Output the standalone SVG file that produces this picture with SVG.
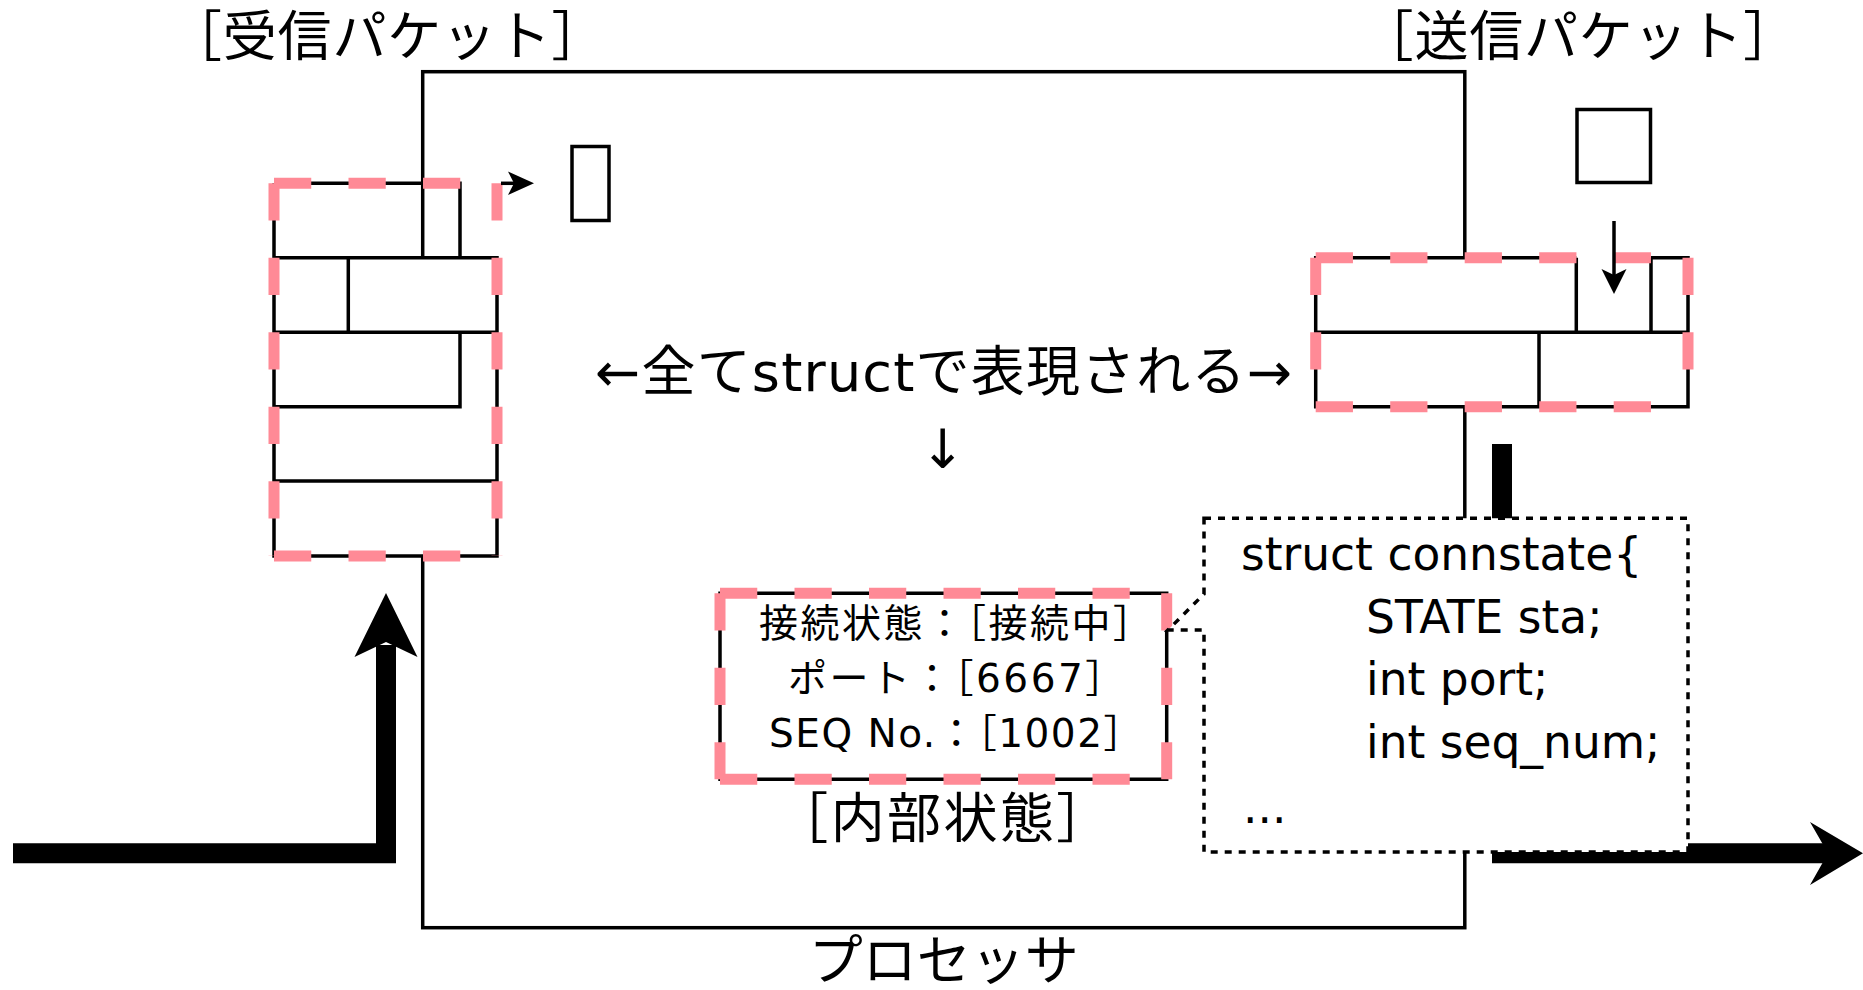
<svg xmlns="http://www.w3.org/2000/svg" width="1863" height="990" viewBox="0 0 1863 990">
<style>
.ln{fill:none;stroke:#000;stroke-width:3.5}
.pk{fill:none;stroke:#ff8a96;stroke-width:11;stroke-dasharray:37.25 37.25}
.dot{fill:#fff;stroke:#000;stroke-width:3.5;stroke-dasharray:7 7}
.t{font-family:'DejaVu Sans','Noto Sans CJK JP',sans-serif;fill:#000}
.big{font-size:54px}
.mid{font-size:39px;letter-spacing:2.5px}
.code{font-size:45.5px}
.thick{fill:none;stroke:#000;stroke-width:20;stroke-linejoin:miter}
</style>
<rect width="1863" height="990" fill="#fff"/>
<g id="processor">
<rect class="ln" x="422.7" y="71.7" width="1042.1" height="856"/>
<text class="t big" x="943.7" y="980" text-anchor="middle">プロセッサ</text>
</g>
<g id="recv-packet">
<rect x="274" y="257.7" width="223" height="298.3" fill="#fff"/>
<path class="ln" d="M274,183.3 H460 V257.7 M274,183.3 V556 H497 V257.7 H274 M348.3,257.7 V332.3 M274,332.3 H497 M460,332.3 V406.7 H274 M274,481 H497"/>
<path class="pk" d="M274,183.3 H497.3 M274,183.3 V556 M497,183.3 V556 M274,556 H497.3"/>
</g>
<g id="send-packet">
<rect x="1315.7" y="257.7" width="372.3" height="149" fill="#fff"/>
<path class="ln" d="M1576.3,257.7 H1315.7 V406.7 H1688 V257.7 H1651 M1315.7,332.3 H1688 M1576.3,257.7 V332.3 M1651,257.7 V332.3 M1539,332.3 V406.7"/>
<path class="pk" d="M1315.7,257.7 H1688 M1315.7,257.7 V406.7 M1688,257.7 V406.7 M1315.7,406.7 H1688"/>
</g>
<g id="recv-slot"><rect class="ln" x="572" y="146.5" width="37" height="74"/></g>
<g id="send-slot"><rect class="ln" x="1577" y="109.5" width="73.5" height="73"/></g>
<g id="connectors">
<path class="thick" d="M13,853.3 H386 V645"/>
<polygon points="386,593 417.5,657 386,642 354.5,657"/>
<path class="thick" d="M1502,444 V853.3 H1830"/>
<polygon points="1863,853.3 1810,822 1828,853.3 1810,885"/>
<path class="ln" d="M501,183.3 H516"/>
<polygon points="534,183.3 508,171.5 514,183.3 508,195"/>
<path class="ln" d="M1614,221 V280"/>
<polygon points="1614,294 1601.5,269 1614,275 1626.5,269"/>
</g>
<g id="internal-state">
<path class="ln" d="M720,593.3 H1166.7 V779.3 H720 Z"/>
<path class="pk" d="M720,593.3 H1166.7 M720,593.3 V779.3 M1166.7,593.3 V779.3 M720,779.3 H1166.7"/>
<text class="t mid" x="759" y="637">接続状態：［接続中］</text>
<text class="t mid" x="788" y="692">ポート：［6667］</text>
<text class="t mid" x="769" y="747" style="letter-spacing:1.5px">SEQ No.：［1002］</text>
<text class="t big" x="943.5" y="838" text-anchor="middle" style="letter-spacing:2.4px">［内部状態］</text>
</g>
<g id="struct-callout">
<path class="dot" d="M1204,518.3 H1688 V852 H1204 V630 H1168 L1204,594 Z"/>
<text class="t code" x="1241" y="570">struct connstate{</text>
<text class="t code" x="1366" y="633">STATE sta;</text>
<text class="t code" x="1366" y="695">int port;</text>
<text class="t code" x="1366" y="758">int seq_num;</text>
<text class="t code" x="1243" y="823">...</text>
</g>
<g id="labels">
<text class="t big" x="168" y="56" style="letter-spacing:0.8px">［受信パケット］</text>
<text class="t big" x="1359.6" y="56" style="letter-spacing:0.8px">［送信パケット］</text>
<text class="t big" x="595" y="391" textLength="697" lengthAdjust="spacing">←全てstructで表現される→</text>
<text class="t big" x="942.6" y="468" text-anchor="middle">↓</text>
</g>
</svg>
